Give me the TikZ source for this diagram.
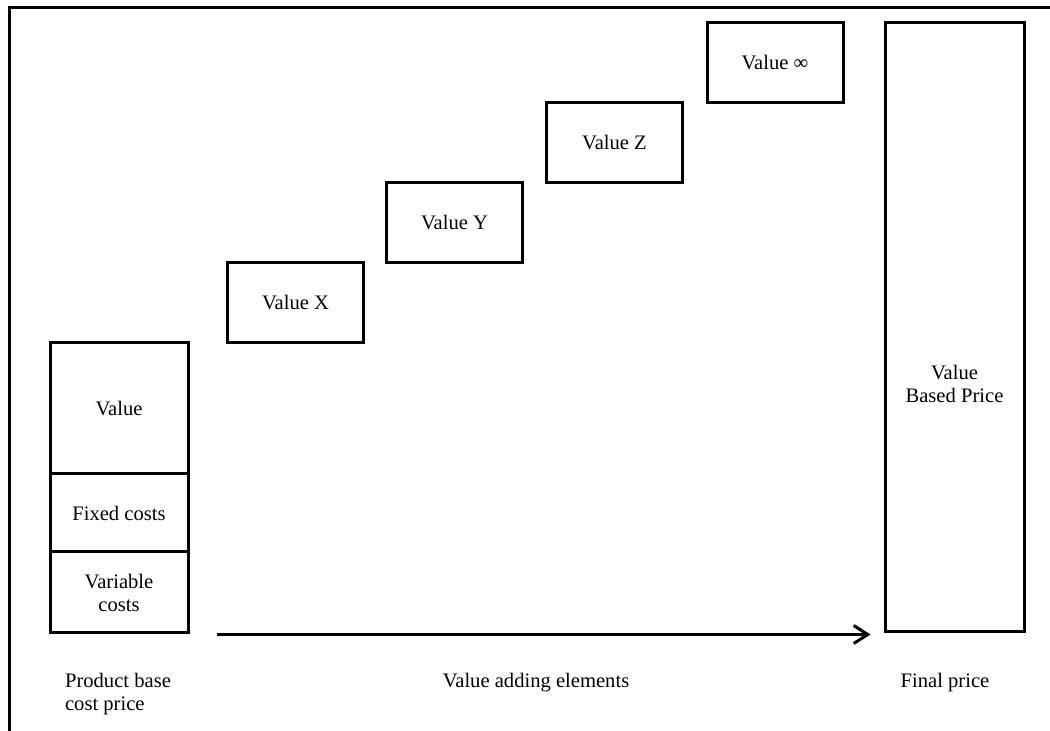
\documentclass[tikz,border=0pt]{standalone}
\usepackage{fontspec}
\setmainfont{Liberation Serif}
\usetikzlibrary{arrows.meta,calc}
\begin{document}
\begin{tikzpicture}[x=0.5pt,y=-0.5pt,
  every node/.style={font=\fontsize{10.3}{11.5}\selectfont},
  box/.style={draw, line width=1.5pt, inner sep=0pt, align=center},
  vbox/.style={box, minimum width=68pt, minimum height=40pt},
  lbl/.style={inner sep=0pt, align=center},
  frame/.style={line width=1.5pt},
  flow/.style={line width=1.5pt, -{Straight Barb[length=7pt,width=9pt,line width=1.5pt]}}]
\useasboundingbox (0,0) rectangle (1050,731);
% frame
\coordinate (ftr) at (1050,8);
\coordinate (ftl) at (9,8);
\coordinate (fbl) at (9,731);
\draw[frame] (ftr) -- (ftl) -- (fbl);
% base stack
\node[box, minimum width=69pt, minimum height=65.5pt] (val) at (119,408.5) {Value};
\node[box, minimum width=69pt, minimum height=39pt] (fix) at (119,513) {Fixed costs};
\node[box, minimum width=69pt, minimum height=40.5pt] (var) at (119,592.5) {Variable\\costs};
% value steps
\node[vbox] (vx) at (295.5,303) {Value X};
\node[vbox] (vy) at (454.5,223) {Value Y};
\node[vbox] (vz) at (614.5,143) {Value Z};
\node[vbox] (vinf) at (775,62.5) {Value ∞};
% final
\node[box, minimum width=69.5pt, minimum height=304.5pt] (vbp) at (954.5,327.5) {};
\node[lbl] (vbpt) at (954.5,384) {Value\\Based Price};
% arrow
\draw[flow, shorten <=13.5pt, shorten >=6.5pt] (var.south east) -- (var.south east -| vbp.west);
% bottom labels
\node[lbl, align=left] (l1) at (118,694) {Product base\\cost price};
\node[lbl] (l2) at (536,683) {Value adding elements};
\node[lbl] (l3) at (945,683) {Final price};
\end{tikzpicture}
\end{document}
